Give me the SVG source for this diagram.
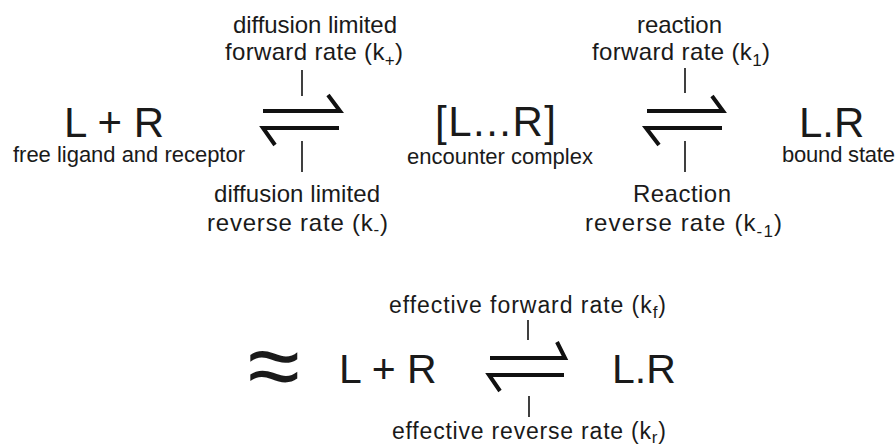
<svg xmlns="http://www.w3.org/2000/svg" width="896" height="448" viewBox="0 0 896 448">
<style>
text{font-family:"Liberation Sans",Arial,Helvetica,sans-serif;fill:#1a1a1a}
.big{font-size:42px}
.state{font-size:22px}
.rate{font-size:24px}
.eff{font-size:23px}
.sub{font-size:17px}
.harp{fill:none;stroke:#111;stroke-width:4;stroke-linecap:butt;stroke-linejoin:miter}
.tick{fill:none;stroke:#111;stroke-width:1.6}
</style>
<rect width="896" height="448" fill="#fff"/>
<g id="node-free">
<text class="big" x="64" y="137">L + R</text>
<text class="state" x="13" y="162" textLength="232" lengthAdjust="spacing">free ligand and receptor</text>
</g>
<g id="node-encounter">
<text class="big" x="435" y="136" textLength="121" lengthAdjust="spacing">[L...R]</text>
<text class="state" x="407" y="164" textLength="186" lengthAdjust="spacing">encounter complex</text>
</g>
<g id="node-bound">
<text class="big" x="799" y="137">L.R</text>
<text class="state" x="782" y="162" textLength="113" lengthAdjust="spacing">bound state</text>
</g>
<g id="node-approx">
<text x="273.5" y="398" text-anchor="middle" style="font-size:95px">≈</text>
</g>
<g id="node-free-eff">
<text class="big" x="339" y="383" style="font-size:41px">L + R</text>
</g>
<g id="node-bound-eff">
<text class="big" x="612" y="383" style="font-size:41px">L.R</text>
</g>
<g id="connectors">
<g id="conn-diffusion">
<path class="harp" d="M263 111H340L328 95"/>
<path class="harp" d="M339 128H263L275 145"/>
<path class="tick" d="M302 70V96M302 141V172"/>
<text class="rate" x="233" y="33" textLength="164" lengthAdjust="spacing">diffusion limited</text>
<text class="rate" x="225" y="60" textLength="178" lengthAdjust="spacing">forward rate (k<tspan class="sub" dy="6">+</tspan><tspan dy="-6">)</tspan></text>
<text class="rate" x="214" y="202" textLength="166" lengthAdjust="spacing">diffusion limited</text>
<text class="rate" x="207" y="231" textLength="181" lengthAdjust="spacing">reverse rate (k<tspan class="sub" dy="4">-</tspan><tspan dy="-4">)</tspan></text>
</g>
<g id="conn-reaction">
<path class="harp" d="M647 111H723L712 96"/>
<path class="harp" d="M722 128H646L659 145"/>
<path class="tick" d="M685 68V93M685 141V172"/>
<text class="rate" x="637" y="33" textLength="85" lengthAdjust="spacing">reaction</text>
<text class="rate" x="592" y="60" textLength="178" lengthAdjust="spacing">forward rate (k<tspan class="sub" dy="6">1</tspan><tspan dy="-6">)</tspan></text>
<text class="rate" x="633" y="202" textLength="98" lengthAdjust="spacing">Reaction</text>
<text class="rate" x="585" y="231" textLength="197" lengthAdjust="spacing">reverse rate (k<tspan class="sub" dy="6">-1</tspan><tspan dy="-6">)</tspan></text>
</g>
<g id="conn-effective">
<path class="harp" d="M490 358H565L557 342"/>
<path class="harp" d="M564 375H489L500 391"/>
<path class="tick" d="M528 320V340M529 396V417"/>
<text class="eff" x="389" y="313" textLength="277" lengthAdjust="spacing">effective forward rate (k<tspan class="sub" dy="5">f</tspan><tspan dy="-5">)</tspan></text>
<text class="eff" x="392" y="439" textLength="274" lengthAdjust="spacing">effective reverse rate (k<tspan class="sub" dy="4">r</tspan><tspan dy="-4">)</tspan></text>
</g>
</g>
</svg>
